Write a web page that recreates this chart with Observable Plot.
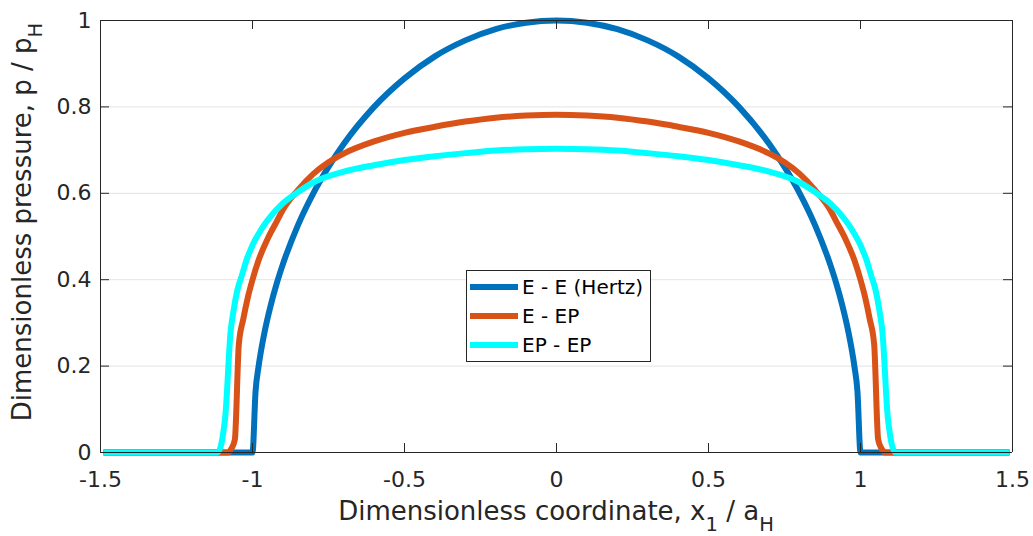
<!DOCTYPE html>
<html><head><meta charset="utf-8">
<script src="https://cdn.jsdelivr.net/npm/d3@7"></script>
<script src="https://cdn.jsdelivr.net/npm/@observablehq/plot@0.6"></script>
<style>
html,body{margin:0;padding:0;background:#fff;}
#chart{width:1033px;height:536px;}
</style></head><body><div id="chart"></div>
<script>
const xTicks = [-1.5, -1, -0.5, 0, 0.5, 1, 1.5];
const yTicks = [0, 0.2, 0.4, 0.6, 0.8, 1];
const seriesNames = ["E - E (Hertz)", "E - EP", "EP - EP"];
const seriesColors = ["#0072BD", "#D95319", "#00FFFF"];

const xHertz = [-1.49,-1.01,-1.0,-0.99,-0.98,-0.97,-0.96,-0.94,-0.92,-0.9,-0.85,-0.8,-0.75,-0.7,-0.6,-0.5,-0.4,-0.3,-0.2,-0.1,0,0.1,0.2,0.3,0.4,0.5,0.6,0.7,0.75,0.8,0.85,0.9,0.92,0.94,0.96,0.97,0.98,0.99,1.0,1.01,1.49];
const pHertz = [0,0,0,0.141,0.199,0.243,0.280,0.341,0.392,0.436,0.527,0.600,0.661,0.714,0.800,0.866,0.917,0.954,0.980,0.995,1.000,0.995,0.980,0.954,0.917,0.866,0.800,0.714,0.661,0.600,0.527,0.436,0.392,0.341,0.280,0.243,0.199,0.141,0,0,0];

const xEEP = [-1.49,-1.08,-1.07,-1.058,-1.045,-1.03,-1.015,-1.0,-0.98,-0.95,-0.92,-0.9,-0.85,-0.8,-0.75,-0.7,-0.6,-0.5,-0.4,-0.3,-0.2,-0.1,0,0.1,0.2,0.3,0.4,0.5,0.6,0.7,0.75,0.8,0.85,0.9,0.92,0.95,0.98,1.0,1.015,1.03,1.045,1.058,1.07,1.08,1.49];
const pEEP = [0,0,0.008,0.03,0.25,0.31,0.36,0.40,0.445,0.495,0.535,0.562,0.608,0.645,0.672,0.692,0.720,0.740,0.754,0.766,0.775,0.780,0.782,0.780,0.775,0.766,0.754,0.740,0.720,0.692,0.672,0.645,0.608,0.562,0.535,0.495,0.445,0.40,0.36,0.31,0.25,0.03,0.008,0,0];

const xEPEP = [-1.49,-1.115,-1.09,-1.072,-1.062,-1.05,-1.035,-1.02,-1.0,-0.975,-0.95,-0.9,-0.85,-0.8,-0.7,-0.6,-0.5,-0.4,-0.3,-0.2,-0.1,0,0.1,0.2,0.3,0.4,0.5,0.6,0.7,0.8,0.85,0.9,0.95,0.975,1.0,1.02,1.035,1.05,1.062,1.072,1.09,1.115,1.49];
const pEPEP = [0,0,0.08,0.28,0.33,0.375,0.41,0.445,0.48,0.512,0.538,0.577,0.603,0.625,0.650,0.665,0.677,0.686,0.693,0.699,0.702,0.703,0.702,0.699,0.693,0.686,0.677,0.665,0.650,0.625,0.603,0.577,0.538,0.512,0.48,0.445,0.41,0.375,0.33,0.28,0.08,0,0];

const data = [];
[[xHertz, pHertz], [xEEP, pEEP], [xEPEP, pEPEP]].forEach(([xs, ps], i) => {
  xs.forEach((x, j) => data.push({series: seriesNames[i], x, p: ps[j]}));
});

const W = 1033, H = 536, mL = 100, mR = 21, mT = 20, mB = 84;
const pw = W - mL - mR, ph = H - mT - mB, tl = 9;
const ink = "#262626";
const xDom = [xTicks[0], xTicks[xTicks.length - 1]];
const yDom = [yTicks[0], yTicks[yTicks.length - 1]];

const chart = Plot.plot({
  width: W, height: H,
  marginLeft: mL, marginRight: mR, marginTop: mT, marginBottom: mB,
  style: {fontFamily: "'DejaVu Sans', sans-serif", fontSize: "22px", background: "#fff", color: ink},
  x: {domain: xDom, label: null},
  y: {domain: yDom, label: null},
  color: {domain: seriesNames, range: seriesColors},
  marks: [
    Plot.gridY(yTicks, {y: d => d, stroke: "#e3e3e3", strokeOpacity: 1, strokeWidth: 1}),
    Plot.line(data, {x: "x", y: "p", z: "series", stroke: "series", strokeWidth: 6, curve: "monotone-x", strokeLinejoin: "round", strokeLinecap: "butt"}),
    Plot.ruleX(xDom, {x: d => d, stroke: ink, strokeWidth: 1, strokeOpacity: 1}),
    Plot.ruleY(yDom, {y: d => d, stroke: ink, strokeWidth: 1, strokeOpacity: 1}),
    Plot.ruleX(xTicks, {x: d => d, insetTop: ph - tl, stroke: ink, strokeOpacity: 1}),
    Plot.ruleX(xTicks, {x: d => d, insetBottom: ph - tl, stroke: ink, strokeOpacity: 1}),
    Plot.ruleY(yTicks, {y: d => d, insetRight: pw - tl, stroke: ink, strokeOpacity: 1}),
    Plot.ruleY(yTicks, {y: d => d, insetLeft: pw - tl, stroke: ink, strokeOpacity: 1}),
    Plot.axisX({ticks: xTicks, tickSize: 0, tickPadding: 19, tickFormat: d => String(d), fontSize: 22}),
    Plot.axisY({ticks: yTicks, tickSize: 0, tickPadding: 9, tickFormat: d => String(d), fontSize: 22})
  ]
});
document.getElementById("chart").appendChild(chart);

const svg = d3.select(chart);
const fam = "'DejaVu Sans', sans-serif";
// x label
const xl = svg.append("text").attr("x", mL + pw / 2).attr("y", 520).attr("text-anchor", "middle")
  .attr("font-family", fam).attr("font-size", 26).attr("fill", ink);
xl.append("tspan").text("Dimensionless coordinate, x");
xl.append("tspan").attr("font-size", 19.5).attr("dy", 11).text("1");
xl.append("tspan").attr("dy", -11).text(" / a");
xl.append("tspan").attr("font-size", 19.5).attr("dy", 11).text("H");
// y label
const yl = svg.append("text").attr("transform", "translate(31,222) rotate(-90)").attr("text-anchor", "middle")
  .attr("font-family", fam).attr("font-size", 26).attr("fill", ink);
yl.append("tspan").text("Dimensionless pressure, p / p");
yl.append("tspan").attr("font-size", 19.5).attr("dy", 11).text("H");
// legend
const lg = svg.append("g");
lg.append("rect").attr("x", 466.5).attr("y", 270.5).attr("width", 184).attr("height", 91)
  .attr("fill", "#fff").attr("stroke", ink).attr("stroke-width", 1);
seriesNames.forEach((n, i) => {
  const cy = 287 + i * 29;
  lg.append("line").attr("x1", 470).attr("x2", 518).attr("y1", cy).attr("y2", cy)
    .attr("stroke", seriesColors[i]).attr("stroke-width", 6);
  lg.append("text").attr("x", 522).attr("y", cy + 7).attr("text-anchor", "start")
    .attr("font-family", fam).attr("font-size", 20).attr("fill", "#000").text(n);
});
</script></body></html>
